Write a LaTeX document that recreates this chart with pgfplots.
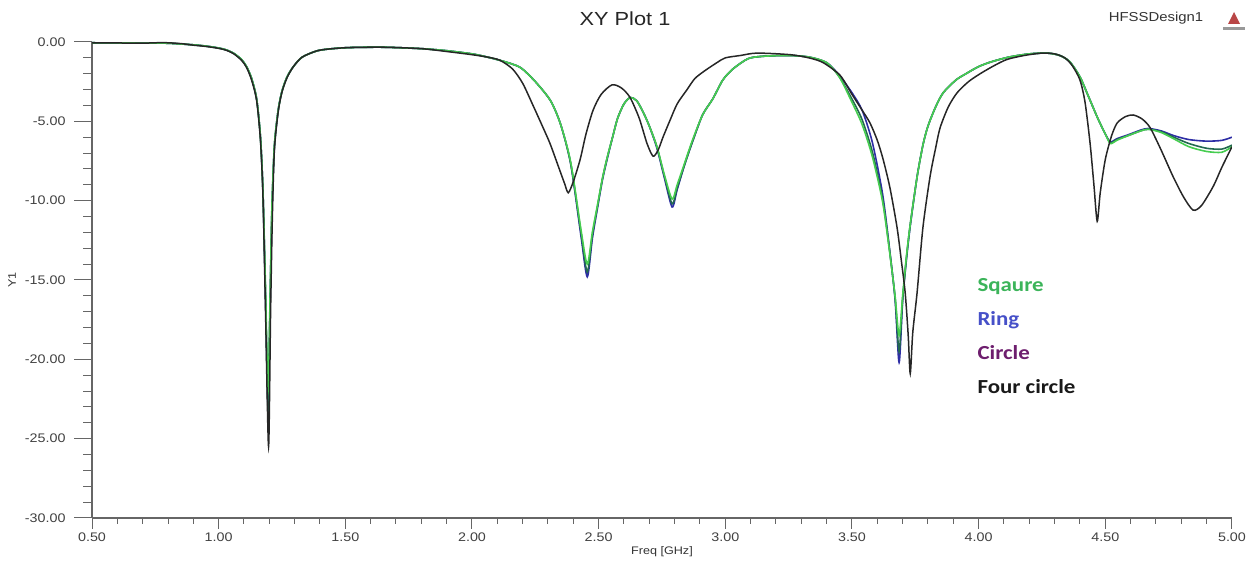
\documentclass[border=0pt]{standalone}
\usepackage{pgfplots}
\pgfplotsset{compat=1.18}
\usepackage{fontspec}
\setmainfont{Liberation Sans}[FakeStretch=1.15]
\newfontfamily\calib{Carlito}[FakeStretch=1.15]
\definecolor{sqgreen}{RGB}{70,205,80}
\definecolor{ringblue}{RGB}{45,45,165}
\definecolor{circgreen}{RGB}{35,105,80}
\definecolor{legsq}{RGB}{60,180,90}
\definecolor{legring}{RGB}{70,80,200}
\definecolor{legcirc}{RGB}{110,30,110}

\pgfplotstableread{
x y
0.50 -0.05
0.60 -0.06
0.70 -0.07
0.80 -0.08
0.90 -0.18
0.95 -0.26
1.00 -0.38
1.03 -0.50
1.06 -0.72
1.09 -1.10
1.11 -1.55
1.13 -2.30
1.15 -3.60
1.165 -6.00
1.175 -9.50
1.185 -15.5
1.195 -22.0
1.203 -16.0
1.210 -10.5
1.22 -6.50
1.235 -4.30
1.25 -3.10
1.27 -2.20
1.295 -1.55
1.33 -0.95
1.39 -0.55
1.45 -0.42
1.52 -0.35
1.65 -0.33
1.80 -0.42
1.90 -0.55
2.00 -0.75
2.06 -0.95
2.12 -1.20
2.19 -1.60
2.25 -2.50
2.31 -3.70
2.35 -5.20
2.39 -7.60
2.43 -11.8
2.455 -14.0
2.475 -12.0
2.495 -10.3
2.515 -8.6
2.535 -7.2
2.555 -6.0
2.575 -4.8
2.60 -3.9
2.625 -3.5
2.65 -3.7
2.675 -4.4
2.70 -5.3
2.73 -6.6
2.76 -8.4
2.79 -9.9
2.81 -9.0
2.84 -7.6
2.87 -6.2
2.91 -4.6
2.95 -3.6
2.99 -2.4
3.03 -1.7
3.09 -1.05
3.15 -0.90
3.25 -0.85
3.33 -0.95
3.40 -1.30
3.45 -2.20
3.50 -3.80
3.54 -5.20
3.58 -7.20
3.62 -10.0
3.645 -12.8
3.67 -16.0
3.686 -18.5
3.70 -16.0
3.715 -13.5
3.73 -11.5
3.757 -8.5
3.78 -6.5
3.80 -5.3
3.83 -4.1
3.86 -3.2
3.91 -2.4
3.95 -2.0
4.00 -1.55
4.05 -1.25
4.12 -0.95
4.20 -0.75
4.27 -0.70
4.32 -0.85
4.36 -1.25
4.40 -2.20
4.43 -3.30
4.47 -4.80
4.50 -5.80
4.52 -6.40
4.545 -6.20
4.59 -5.90
4.64 -5.60
4.67 -5.50
4.72 -5.70
4.77 -6.10
4.83 -6.60
4.90 -6.90
4.96 -6.95
5.00 -6.60
}\sqaure

\pgfplotstableread{
x y
0.50 -0.05
0.60 -0.06
0.70 -0.07
0.80 -0.08
0.90 -0.18
0.95 -0.26
1.00 -0.38
1.03 -0.50
1.06 -0.72
1.09 -1.10
1.11 -1.55
1.13 -2.30
1.15 -3.60
1.165 -6.00
1.175 -9.50
1.185 -16.0
1.195 -23.0
1.203 -16.5
1.210 -10.8
1.22 -6.60
1.235 -4.30
1.25 -3.10
1.27 -2.20
1.295 -1.55
1.33 -0.95
1.39 -0.55
1.45 -0.42
1.52 -0.35
1.65 -0.33
1.80 -0.42
1.90 -0.55
2.00 -0.75
2.06 -0.95
2.12 -1.20
2.19 -1.60
2.25 -2.50
2.31 -3.70
2.35 -5.20
2.39 -7.70
2.43 -12.2
2.455 -14.8
2.475 -12.4
2.495 -10.5
2.515 -8.7
2.535 -7.3
2.555 -6.0
2.575 -4.8
2.60 -3.9
2.625 -3.5
2.65 -3.7
2.675 -4.4
2.70 -5.3
2.73 -6.7
2.76 -8.6
2.79 -10.4
2.81 -9.3
2.84 -7.7
2.87 -6.3
2.91 -4.6
2.95 -3.6
2.99 -2.4
3.03 -1.7
3.09 -1.05
3.15 -0.90
3.25 -0.85
3.33 -0.95
3.40 -1.30
3.45 -2.10
3.50 -3.20
3.54 -4.30
3.58 -6.30
3.62 -9.50
3.645 -12.6
3.67 -16.2
3.686 -20.2
3.70 -16.3
3.715 -13.7
3.73 -11.6
3.757 -8.5
3.78 -6.5
3.80 -5.3
3.83 -4.1
3.86 -3.2
3.91 -2.4
3.95 -2.0
4.00 -1.55
4.05 -1.25
4.12 -0.95
4.20 -0.75
4.27 -0.70
4.32 -0.85
4.36 -1.25
4.40 -2.20
4.43 -3.30
4.47 -4.80
4.50 -5.80
4.52 -6.30
4.545 -6.10
4.59 -5.85
4.64 -5.55
4.67 -5.45
4.72 -5.60
4.77 -5.90
4.83 -6.15
4.90 -6.25
4.96 -6.20
5.00 -6.00
}\ring

\pgfplotstableread{
x y
0.50 -0.05
0.60 -0.06
0.70 -0.07
0.80 -0.08
0.90 -0.18
0.95 -0.26
1.00 -0.38
1.03 -0.50
1.06 -0.72
1.09 -1.10
1.11 -1.55
1.13 -2.30
1.15 -3.60
1.165 -6.00
1.175 -9.50
1.185 -16.2
1.195 -23.2
1.203 -16.5
1.210 -10.8
1.22 -6.60
1.235 -4.30
1.25 -3.10
1.27 -2.20
1.295 -1.55
1.33 -0.95
1.39 -0.55
1.45 -0.42
1.52 -0.35
1.65 -0.33
1.80 -0.42
1.90 -0.55
2.00 -0.75
2.06 -0.95
2.12 -1.20
2.19 -1.60
2.25 -2.50
2.31 -3.70
2.35 -5.20
2.39 -7.70
2.43 -12.0
2.455 -14.5
2.475 -12.2
2.495 -10.4
2.515 -8.6
2.535 -7.2
2.555 -6.0
2.575 -4.8
2.60 -3.9
2.625 -3.5
2.65 -3.7
2.675 -4.4
2.70 -5.3
2.73 -6.6
2.76 -8.5
2.79 -10.2
2.81 -9.2
2.84 -7.7
2.87 -6.3
2.91 -4.6
2.95 -3.6
2.99 -2.4
3.03 -1.7
3.09 -1.05
3.15 -0.90
3.25 -0.85
3.33 -0.95
3.40 -1.30
3.45 -2.20
3.50 -3.60
3.54 -4.90
3.58 -6.90
3.62 -9.80
3.645 -12.7
3.67 -16.1
3.686 -19.5
3.70 -16.2
3.715 -13.6
3.73 -11.5
3.757 -8.5
3.78 -6.5
3.80 -5.3
3.83 -4.1
3.86 -3.2
3.91 -2.4
3.95 -2.0
4.00 -1.55
4.05 -1.25
4.12 -0.95
4.20 -0.75
4.27 -0.70
4.32 -0.85
4.36 -1.25
4.40 -2.20
4.43 -3.30
4.47 -4.80
4.50 -5.80
4.52 -6.35
4.545 -6.15
4.59 -5.90
4.64 -5.60
4.67 -5.50
4.72 -5.65
4.77 -6.00
4.83 -6.40
4.90 -6.70
4.96 -6.75
5.00 -6.50
}\circle

\pgfplotstableread{
x y
0.50 -0.05
0.70 -0.07
0.78 -0.04
0.85 -0.10
0.90 -0.20
0.95 -0.28
1.00 -0.40
1.03 -0.52
1.06 -0.75
1.09 -1.15
1.11 -1.60
1.13 -2.40
1.15 -3.70
1.165 -6.20
1.175 -9.80
1.185 -17.0
1.197 -25.5
1.205 -17.0
1.212 -11.0
1.22 -6.80
1.235 -4.40
1.25 -3.15
1.27 -2.25
1.295 -1.55
1.33 -0.95
1.39 -0.55
1.45 -0.42
1.52 -0.35
1.65 -0.33
1.80 -0.42
1.90 -0.60
2.00 -0.80
2.06 -0.95
2.11 -1.15
2.16 -1.70
2.20 -2.60
2.241 -4.00
2.275 -5.20
2.308 -6.40
2.34 -7.80
2.365 -8.90
2.38 -9.50
2.40 -8.80
2.427 -7.40
2.45 -5.80
2.478 -4.30
2.51 -3.30
2.553 -2.70
2.59 -2.90
2.624 -3.50
2.66 -4.80
2.691 -6.40
2.715 -7.20
2.735 -6.80
2.754 -6.00
2.78 -5.00
2.81 -3.90
2.849 -3.00
2.88 -2.30
2.92 -1.80
2.967 -1.30
3.00 -1.00
3.06 -0.85
3.125 -0.70
3.256 -0.80
3.33 -1.00
3.386 -1.30
3.453 -2.10
3.50 -3.30
3.54 -4.30
3.571 -5.10
3.60 -6.20
3.623 -7.40
3.65 -9.20
3.678 -11.7
3.695 -13.8
3.71 -15.8
3.722 -18.5
3.73 -20.9
3.74 -18.3
3.757 -15.8
3.78 -11.7
3.808 -8.50
3.83 -6.70
3.848 -5.40
3.88 -4.10
3.915 -3.20
3.96 -2.50
4.006 -2.00
4.06 -1.50
4.112 -1.10
4.18 -0.85
4.25 -0.70
4.30 -0.75
4.34 -1.00
4.37 -1.50
4.40 -2.40
4.42 -3.80
4.44 -6.40
4.455 -9.00
4.468 -11.3
4.48 -9.50
4.50 -7.40
4.525 -5.90
4.547 -5.10
4.58 -4.70
4.61 -4.60
4.645 -4.85
4.677 -5.40
4.72 -6.80
4.768 -8.50
4.81 -9.80
4.847 -10.6
4.88 -10.3
4.926 -9.10
4.96 -7.90
5.00 -6.60
}\fourcircle

\begin{document}
\begin{tikzpicture}[x=1bp,y=1bp]
\useasboundingbox (0,0) rectangle (1260,562);
\pgfplotsset{
  common/.style={
    at={(92bp,44bp)}, anchor=south west, scale only axis,
    width=1140bp, height=476bp,
    xmin=0.5, xmax=5, ymin=-30, ymax=0,
    tick label style={font=\fontsize{12.5}{14}\selectfont, text=black!75},
    /pgf/number format/assume math mode=true,
    axis line style={black!60, line width=1.2bp},
    tick style={black!60, line width=1bp},
    tick align=outside,
  }
}
% y axis
\begin{axis}[common,
  axis x line=none, axis y line*=left,
  ytick={-30,-25,...,0}, minor y tick num=4,
  major tick length=18bp, minor tick length=9bp,
  yticklabel style={xshift=-5bp, /pgf/number format/.cd, fixed, fixed zerofill, precision=2},
]
\end{axis}
% x axis with curves
\begin{axis}[common,
  axis y line=none, axis x line*=bottom,
  xtick={0.5,1,...,5}, minor x tick num=4,
  major tick length=11bp, minor tick length=6bp,
  xticklabel style={/pgf/number format/.cd, fixed, fixed zerofill, precision=2},
  xlabel={Freq [GHz]},
  xlabel style={at={(rel axis cs:0.5,0)}, yshift=-34bp, anchor=center, font=\fontsize{11}{13}\selectfont, text=black!80},
  every axis plot/.append style={smooth, tension=0.45},
]
\addplot[color=ringblue, line width=1.6bp] table {\ring};
\addplot[color=circgreen, line width=1.6bp] table {\circle};
\addplot[color=sqgreen, line width=1.6bp] table {\sqaure};
\addplot[color=black!85, line width=1.5bp] table {\fourcircle};
\end{axis}
\node[rotate=90, font=\fontsize{11}{13}\selectfont, text=black!80] at (12,282) {Y1};
\node[font=\fontsize{19}{22}\selectfont, text=black!85] at (625,543) {XY Plot 1};
\node[font=\fontsize{13}{15}\selectfont, text=black!80] at (1156,544) {HFSSDesign1};
\fill[red!45!gray] (1228,538) -- (1234,550) -- (1240,538) -- cycle;
\fill[gray!80] (1223,532) rectangle (1245,534.5);
\node[anchor=west, font=\calib\bfseries\fontsize{20}{24}\selectfont, text=legsq] at (974,275) {Sqaure};
\node[anchor=west, font=\calib\bfseries\fontsize{20}{24}\selectfont, text=legring] at (974,242) {Ring};
\node[anchor=west, font=\calib\bfseries\fontsize{20}{24}\selectfont, text=legcirc] at (974,209) {Circle};
\node[anchor=west, font=\calib\bfseries\fontsize{20}{24}\selectfont, text=black!90] at (974,175) {Four circle};
\end{tikzpicture}
\end{document}
